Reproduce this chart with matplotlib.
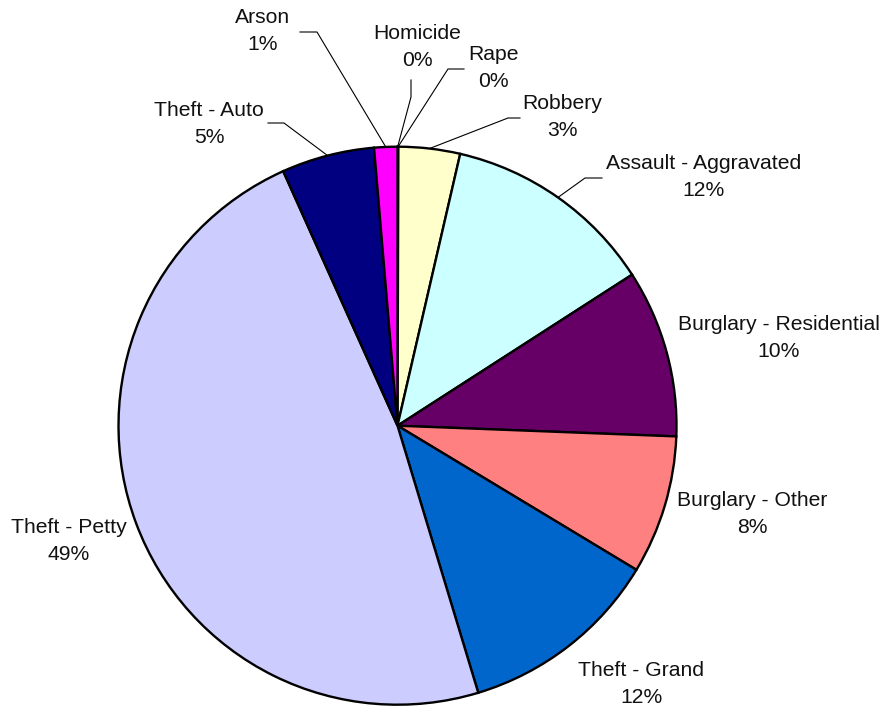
import numpy as np
import matplotlib
matplotlib.use("Agg")
import matplotlib.pyplot as plt

categories = ["Homicide", "Rape", "Robbery", "Assault - Aggravated",
              "Burglary - Residential", "Burglary - Other", "Theft - Grand",
              "Theft - Petty", "Theft - Auto", "Arson"]
# share of all incidents (percent)
share = [0.02, 0.03, 3.56, 12.29, 9.72, 8.03, 11.69, 47.97, 5.38, 1.34]
# percent shown on each label
pct_labels = [0, 0, 3, 12, 10, 8, 12, 49, 5, 1]
colors = ["#9999FF", "#993366", "#FFFFCC", "#CCFFFF", "#660066",
          "#FF8080", "#0066CC", "#CCCCFF", "#000080", "#FF00FF"]

W, H = 883, 707
cx, cy, r = 397.5, H - 425.7, 279

# label block centres (pixel coords, y down)
label_pos = {
    "Homicide": (417, 47),
    "Rape": (493, 68),
    "Robbery": (562, 117),
    "Assault - Aggravated": (704, 177),
    "Burglary - Residential": (779, 338),
    "Burglary - Other": (752, 514),
    "Theft - Grand": (641, 684),
    "Theft - Petty": (69, 541),
    "Theft - Auto": (209, 124),
    "Arson": (263, 31),
}
# leader line: start point and elbow (pixel coords, y down)
leaders = {
    "Arson": [(300, 32), (317, 32)],
    "Homicide": [(411, 80), (411, 97)],
    "Rape": [(464, 69), (448, 69)],
    "Robbery": [(520, 118), (508, 118)],
    "Assault - Aggravated": [(602, 178), (585, 178)],
    "Theft - Auto": [(268, 123), (284, 123)],
}

fig = plt.figure(figsize=(W / 100, H / 100), dpi=100)
ax = fig.add_axes([0, 0, 1, 1])
ax.set_xlim(0, W)
ax.set_ylim(0, H)
ax.axis("off")

wedges, _ = ax.pie(share, colors=colors, startangle=90, counterclock=False,
                   center=(cx, cy), radius=r,
                   wedgeprops=dict(edgecolor="black", linewidth=1.7))
ax.set_xlim(0, W)
ax.set_ylim(0, H)

font = ["Liberation Sans", "DejaVu Sans"]
for name, p, w in zip(categories, pct_labels, wedges):
    lx, ly = label_pos[name]
    ax.text(lx, H - ly, f"{name}\n{p}%", ha="center", va="center",
            fontsize=15.2, family=font, linespacing=1.5, color="#111111")
    if name in leaders:
        mid = np.deg2rad((w.theta1 + w.theta2) / 2)
        ex, ey = cx + r * np.cos(mid), cy + r * np.sin(mid)
        pts = leaders[name]
        xs = [pts[0][0], pts[1][0], ex]
        ys = [H - pts[0][1], H - pts[1][1], ey]
        ax.plot(xs, ys, color="black", lw=0.8)

fig.savefig("out.png", dpi=100)
